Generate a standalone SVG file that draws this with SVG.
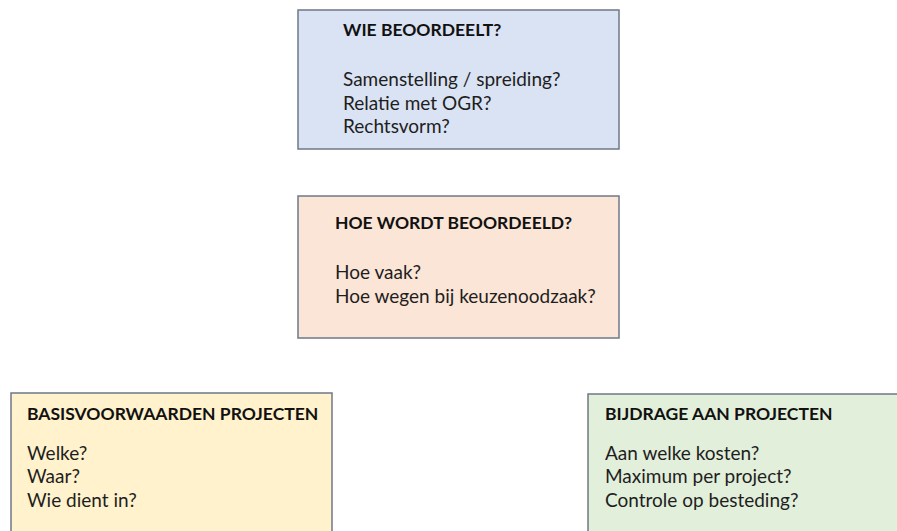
<svg xmlns="http://www.w3.org/2000/svg" width="897" height="531" viewBox="0 0 897 531">
<style>
.box{stroke:#6e7887;stroke-width:1.5}
text{font-family:Lato,"Open Sans","Liberation Sans",sans-serif;font-size:19px;fill:#1e1e1e}
.t{font-weight:bold;font-size:17.5px;fill:#111}
</style>
<rect width="897" height="531" fill="#ffffff"/>
<g id="wie">
<rect class="box" x="298" y="10" width="321" height="139" fill="#dae3f3"/>
<text class="t" x="343" y="36">WIE BEOORDEELT?</text>
<text x="343" y="86">Samenstelling / spreiding?</text>
<text x="343" y="110">Relatie met OGR?</text>
<text x="343" y="133">Rechtsvorm?</text>
</g>
<g id="hoe">
<rect class="box" x="298" y="196" width="321" height="142" fill="#fbe5d6"/>
<text class="t" x="335" y="229">HOE WORDT BEOORDEELD?</text>
<text x="335" y="279">Hoe vaak?</text>
<text x="335" y="303">Hoe wegen bij keuzenoodzaak?</text>
</g>
<g id="basis">
<rect class="box" x="11" y="393" width="321" height="150" fill="#fff2cc"/>
<text class="t" x="27" y="420">BASISVOORWAARDEN PROJECTEN</text>
<text x="27" y="460">Welke?</text>
<text x="27" y="483">Waar?</text>
<text x="27" y="507">Wie dient in?</text>
</g>
<g id="bijdrage">
<rect class="box" x="588" y="394" width="330" height="150" fill="#e2efda"/>
<text class="t" x="605" y="420">BIJDRAGE AAN PROJECTEN</text>
<text x="605" y="460">Aan welke kosten?</text>
<text x="605" y="483">Maximum per project?</text>
<text x="605" y="507">Controle op besteding?</text>
</g>
<g id="connectors"></g>
</svg>
